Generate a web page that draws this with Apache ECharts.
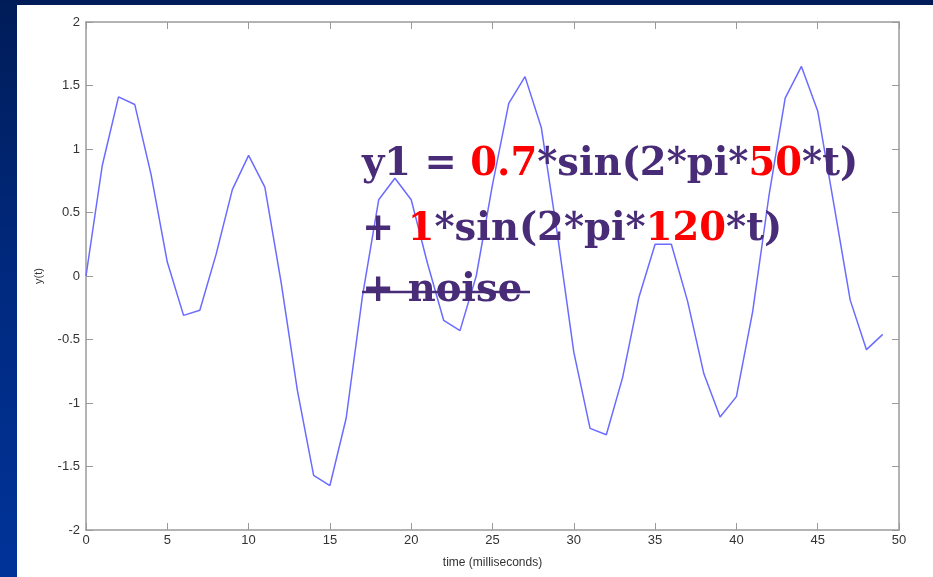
<!DOCTYPE html>
<html>
<head>
<meta charset="utf-8">
<script src="https://cdn.jsdelivr.net/npm/echarts@6/dist/echarts.min.js"></script>
<style>
  html, body { margin: 0; padding: 0; width: 933px; height: 577px; overflow: hidden; }
  body { background: linear-gradient(to bottom, #001c58 0%, #002a80 50%, #003399 100%); position: relative; }
  #main { position: absolute; left: 17px; top: 5px; width: 916px; height: 572px; background: #ffffff; }
</style>
</head>
<body>
<div id="main"></div>
<script>
// sample index (ms) and value
var tVals = [0, 1, 2, 3, 4, 5, 6, 7, 8, 9, 10, 11, 12, 13, 14, 15, 16, 17, 18, 19,
    20, 21, 22, 23, 24, 25, 26, 27, 28, 29, 30, 31, 32, 33, 34, 35, 36, 37, 38, 39,
    40, 41, 42, 43, 44, 45, 46, 47, 48, 49];
var yVals = [0, 0.87, 1.41, 1.35, 0.8, 0.11, -0.31, -0.27, 0.17, 0.68,
    0.95, 0.7, -0.05, -0.9, -1.57, -1.65, -1.12, -0.16, 0.6, 0.77,
    0.6, 0.1, -0.35, -0.43, 0.0, 0.72, 1.36, 1.57, 1.17, 0.32,
    -0.6, -1.2, -1.25, -0.8, -0.17, 0.25, 0.25, -0.2, -0.77, -1.11,
    -0.95, -0.28, 0.63, 1.4, 1.65, 1.3, 0.56, -0.19, -0.58, -0.46];
var xLabel = 'time (milliseconds)';
var yLabel = 'y(t)';

var mChart = echarts.init(document.getElementById('main'));

var data = [];
for (var i = 0; i < tVals.length; i++) {
    data.push([tVals[i], yVals[i]]);
}

var axisGrey = '#9a9a9a';
var txtGrey = '#333333';
var purple = '#482c78';
var fontTxt = 'bold 38.5px "DejaVu Serif", "Liberation Serif", serif';

var option = {
    animation: false,
    backgroundColor: '#ffffff',
    grid: {left: 69, right: 34, top: 17, bottom: 47},
    xAxis: [{
        type: 'value', min: 0, max: 50, interval: 5,
        name: xLabel, nameLocation: 'middle', nameGap: 27,
        nameTextStyle: {color: txtGrey, fontSize: 12, fontFamily: 'Liberation Sans, Arial'},
        axisLine: {show: true, onZero: false, lineStyle: {color: axisGrey, width: 1.5}},
        axisTick: {show: true, inside: true, length: 7, lineStyle: {color: axisGrey}},
        axisLabel: {color: txtGrey, fontSize: 13, margin: 4, fontFamily: 'Liberation Sans, Arial'},
        splitLine: {show: false}
    }, {
        type: 'value', min: 0, max: 50, interval: 5, position: 'top',
        axisLine: {show: true, onZero: false, lineStyle: {color: axisGrey, width: 1.5}},
        axisTick: {show: true, inside: true, length: 7, lineStyle: {color: axisGrey}},
        axisLabel: {show: false},
        splitLine: {show: false}
    }],
    yAxis: [{
        type: 'value', min: -2, max: 2, interval: 0.5,
        name: yLabel, nameLocation: 'middle', nameGap: 42, nameRotate: 90,
        nameTextStyle: {color: txtGrey, fontSize: 11, fontFamily: 'Liberation Sans, Arial'},
        axisLine: {show: true, onZero: false, lineStyle: {color: axisGrey, width: 1.5}},
        axisTick: {show: true, inside: true, length: 7, lineStyle: {color: axisGrey}},
        axisLabel: {color: txtGrey, fontSize: 13, margin: 6, fontFamily: 'Liberation Sans, Arial'},
        splitLine: {show: false}
    }, {
        type: 'value', min: -2, max: 2, interval: 0.5, position: 'right',
        axisLine: {show: true, onZero: false, lineStyle: {color: axisGrey, width: 1.5}},
        axisTick: {show: true, inside: true, length: 7, lineStyle: {color: axisGrey}},
        axisLabel: {show: false},
        splitLine: {show: false}
    }],
    series: [{
        name: 'y1',
        type: 'line',
        data: data,
        showSymbol: false,
        symbol: 'none',
        lineStyle: {color: '#6b6bff', width: 1.5},
        z: 2
    }],
    graphic: [{
        type: 'text', left: 345, top: 140, z: 10,
        style: {
            text: '{p|y1 = }{r|0.7}{p|*sin(2*pi*}{r|50}{p|*t)}',
            rich: {
                p: {font: fontTxt, fill: purple},
                r: {font: fontTxt, fill: '#ff0000'}
            }
        }
    }, {
        type: 'text', left: 345, top: 205, z: 10,
        style: {
            text: '{p|+ }{r|1}{p|*sin(2*pi*}{r|120}{p|*t)}',
            rich: {
                p: {font: fontTxt, fill: purple},
                r: {font: fontTxt, fill: '#ff0000'}
            }
        }
    }, {
        type: 'text', left: 345, top: 266, z: 10,
        style: {text: '+ noise', font: fontTxt, fill: purple}
    }, {
        // strike-through on "+ noise"
        type: 'line', z: 11,
        shape: {x1: 345, y1: 287, x2: 513, y2: 287},
        style: {stroke: purple, lineWidth: 2.5}
    }]
};
mChart.setOption(option);
</script>
</body>
</html>
